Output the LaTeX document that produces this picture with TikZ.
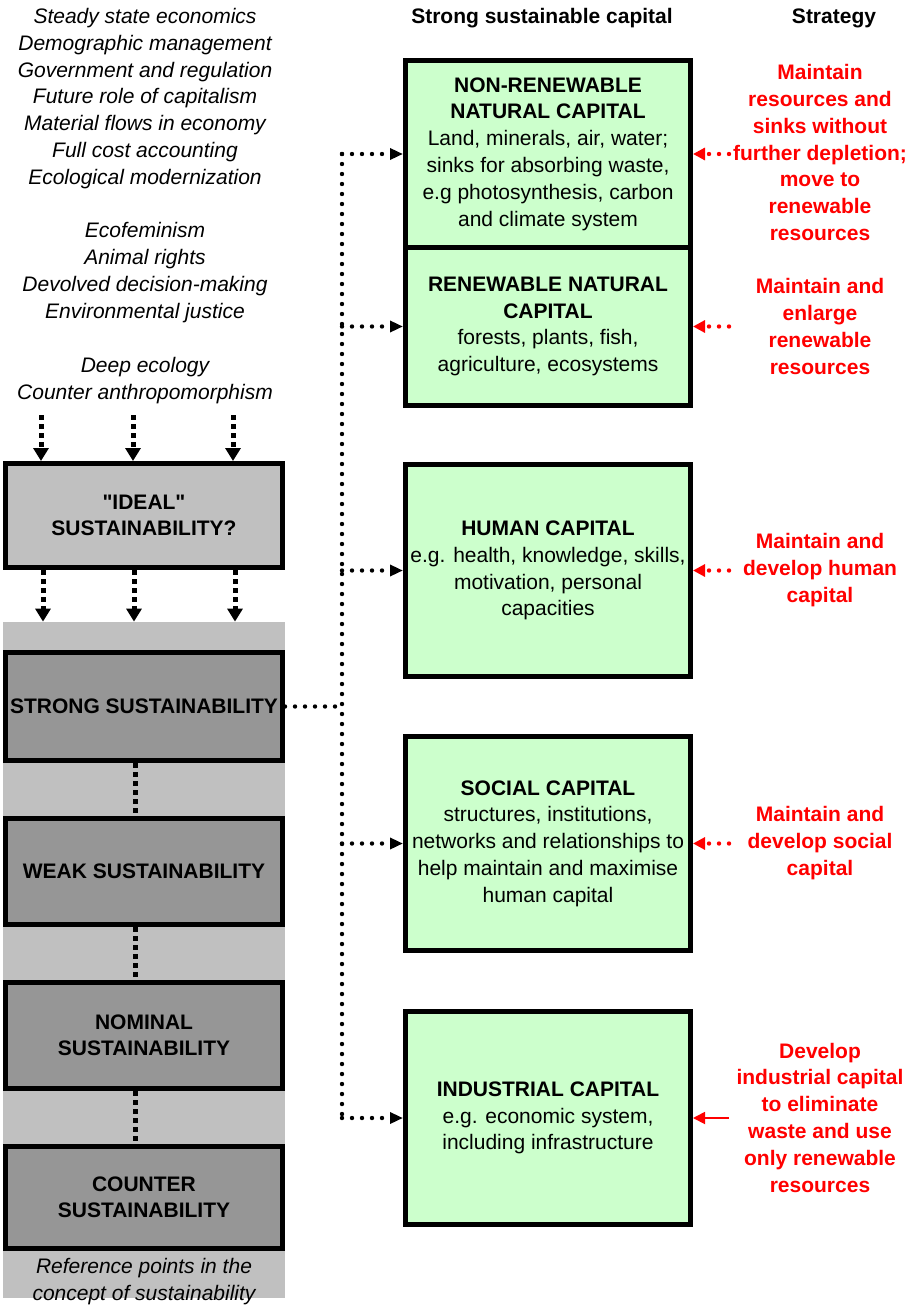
\documentclass[tikz,border=0pt]{standalone}
\usepackage{fontspec}
\setmainfont{Liberation Sans}[Ligatures=TeXOff]
\usetikzlibrary{arrows.meta,positioning}
\definecolor{refGray}{RGB}{192,192,192}
\definecolor{tierGray}{RGB}{150,150,150}
\definecolor{capGreen}{RGB}{204,255,204}
\definecolor{stratRed}{RGB}{255,0,0}

\begin{document}
\begin{tikzpicture}[x=0.5pt,y=-0.5pt,
    every node/.style={inner sep=0pt,align=center,font=\fontsize{10.5pt}{13.4pt}\selectfont},
    tierbox/.style={draw,line width=2.5pt,fill=tierGray,minimum width=138.5pt,font=\fontsize{10.5pt}{13.2pt}\selectfont\bfseries},
    capbox/.style={draw,line width=2.5pt,fill=capGreen,minimum width=142.5pt},
    strat/.style={text=stratRed,font=\fontsize{10.5pt}{13.4pt}\selectfont\bfseries},
    sidetext/.style={font=\fontsize{10.5pt}{13.4pt}\selectfont\itshape},
    colhead/.style={font=\fontsize{10.5pt}{13.4pt}\selectfont\bfseries},
    feed/.style={-{Triangle[length=6.5pt,width=7.5pt]},line width=2.5pt,dash pattern=on 2.5pt off 2pt},
    tierlink/.style={line width=2.5pt,dash pattern=on 2.5pt off 2pt},
    link/.style={line width=2.2pt,line cap=round,dash pattern=on 0pt off 5pt},
    linkarrow/.style={link,-{Triangle[length=6.5pt,width=5.5pt]}},
    redlink/.style={stratRed,line width=2.2pt,line cap=round,dash pattern=on 0pt off 5pt,-{Triangle[length=6pt,width=6pt]}},
    redline/.style={stratRed,line width=0.9pt,-{Triangle[length=6pt,width=6pt]}}
  ]
  \useasboundingbox (0,0) rectangle (912,1305);

  % left column: positions on sustainability
  \node[sidetext] (views1) at (145,98.5) {Steady state economics\\Demographic management\\Government and regulation\\Future role of capitalism\\Material flows in economy\\Full cost accounting\\Ecological modernization};
  \node[sidetext] (views2) at (145,272.5) {Ecofeminism\\Animal rights\\Devolved decision-making\\Environmental justice};
  \node[sidetext] (views3) at (145,380.5) {Deep ecology\\Counter anthropomorphism};

  \node[tierbox,fill=refGray,minimum height=52pt] (ideal) at (144,515.5) {"IDEAL"\\SUSTAINABILITY?};
  \node[fill=refGray,minimum width=141pt,minimum height=338pt] (strip) at (144,960) {};

  \node[tierbox,minimum height=54pt] (strong) at (144,706.5) {STRONG SUSTAINABILITY};
  \node[tierbox,minimum height=53pt,below=26.5pt of strong] (weak) {WEAK SUSTAINABILITY};
  \node[tierbox,minimum height=53pt,below=26.5pt of weak] (nominal) {NOMINAL\\SUSTAINABILITY};
  \node[tierbox,minimum height=51pt,below=26.5pt of nominal] (counter) {COUNTER\\SUSTAINABILITY};
  \node[sidetext] (refnote) at (144,1281.5) {Reference points in the\\concept of sustainability};

  \foreach \ax [count=\i] in {41,133,233} {
    \coordinate (in\i) at (\ax,415);
    \draw[feed] (in\i) -- (in\i |- ideal.north);
  }
  \foreach \ax [count=\i] in {43,134,235} {
    \coordinate (out\i) at (\ax,0);
    \draw[feed] (out\i |- ideal.south) -- (out\i |- strip.north);
  }
  \coordinate (spine) at (135,0);
  \draw[tierlink] (spine |- strong.south) -- (spine |- weak.north);
  \draw[tierlink] (spine |- weak.south) -- (spine |- nominal.north);
  \draw[tierlink] (spine |- nominal.south) -- (spine |- counter.north);

  % right column: capitals and strategies
  \node[colhead] (capshead) at (542,18) {Strong sustainable capital};
  \node[colhead] (strathead) at (834,18) {Strategy};

  \node[capbox,minimum height=93.5pt] (nonren) at (548,154) {\textbf{NON-RENEWABLE}\\\textbf{NATURAL CAPITAL}\\Land, minerals, air, water;\\sinks for absorbing waste,\\e.g photosynthesis, carbon\\and climate system};
  \node[capbox,minimum height=79pt,below=-2.5pt of nonren] (ren) {\textbf{RENEWABLE NATURAL}\\\textbf{CAPITAL}\\forests, plants, fish,\\agriculture, ecosystems};
  \node[capbox,minimum height=106pt,below=27pt of ren] (human) {\textbf{HUMAN CAPITAL}\\e.g. health, knowledge, skills,\\motivation, personal\\capacities};
  \node[capbox,minimum height=107pt,below=27.5pt of human] (social) {\textbf{SOCIAL CAPITAL}\\structures, institutions,\\networks and relationships to\\help maintain and maximise\\human capital};
  \node[capbox,minimum height=106.5pt,below=28pt of social] (indcap) {\textbf{INDUSTRIAL CAPITAL}\\e.g. economic system,\\including infrastructure};

  \node[strat] (strat1) at (820,152.5) {Maintain\\resources and\\sinks without\\further depletion;\\move to\\renewable\\resources};
  \node[strat] (strat2) at (820,326.5) {Maintain and\\enlarge\\renewable\\resources};
  \node[strat] (strat3) at (820,570) {Maintain and\\develop human\\capital};
  \node[strat] (strat4) at (820,843) {Maintain and\\develop social\\capital};
  \node[strat] (strat5) at (820,1117.5) {Develop\\industrial capital\\to eliminate\\waste and use\\only renewable\\resources};

  % dotted links from strong sustainability
  \coordinate (hub) at (342,0);
  \draw[link] (hub |- nonren.west) -- (hub |- indcap.west);
  \draw[link] (strong.east) -- (hub |- strong.east);
  \foreach \capname in {nonren,ren,human,social,indcap}
    \draw[linkarrow] (hub |- \capname.west) -- (\capname.west);

  \coordinate (tail) at (729,0);
  \foreach \capname in {nonren,ren,human,social}
    \draw[redlink] (tail |- \capname.east) -- (\capname.east);
  \draw[redline] (tail |- indcap.east) -- (indcap.east);
\end{tikzpicture}
\end{document}
